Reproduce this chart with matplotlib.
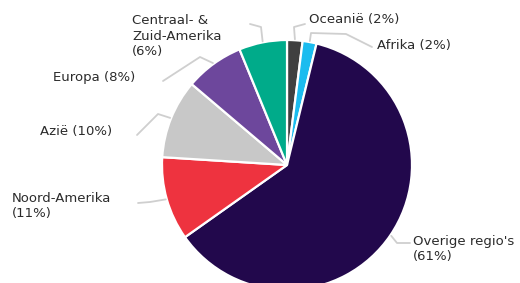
"""Taartdiagram: verdeling per regio (hercreatie)."""
import matplotlib
matplotlib.use("Agg")
import matplotlib.pyplot as plt
import numpy as np

W, H = 520, 283

# data (volgorde met de klok mee vanaf 12 uur)
regions = ["Oceanië", "Afrika", "Overige regio's", "Noord-Amerika", "Azië", "Europa",
           "Centraal- &\nZuid-Amerika"]
shares = [2.0, 1.8, 61.4, 10.8, 10.2, 7.6, 6.2]
pct_labels = ["(2%)", "(2%)", "(61%)", "(11%)", "(10%)", "(8%)", "(6%)"]
colors = ["#404040", "#1bbcef", "#22084c", "#ee333f", "#c8c8c8", "#6d479c", "#00ab8a"]

# layout van labels in pixels (x, y vanaf boven): tekstpositie en knikpunten van de lijn
text_pos = [(309, 19), (377, 45), (413, 249), (12, 206), (40, 132), (53, 77), (132, 36)]
sep = [" ", " ", "\n", "\n", " ", " ", "\n"]
bends = [
    [(294, 27), (305, 24)],
    [(311, 33), (346, 34), (372, 47)],
    [(397, 243), (410, 243)],
    [(150, 202), (138, 203)],
    [(158, 114), (137, 135)],
    [(200, 57), (163, 81)],
    [(261, 27), (250, 24)],
]

cx, cy, r = 287, 165, 125

fig = plt.figure(figsize=(W / 100, H / 100), dpi=100)
ax = fig.add_axes([0, 0, 1, 1])
ax.pie(shares, colors=colors, startangle=90, counterclock=False,
       center=(cx, H - cy), radius=r,
       wedgeprops=dict(edgecolor="white", linewidth=1.6))
ax.set_xlim(0, W)
ax.set_ylim(0, H)
ax.set_aspect("equal")
ax.axis("off")

cum = np.cumsum([0] + shares[:-1])
total = sum(shares)
for i, name in enumerate(regions):
    mid = np.deg2rad((cum[i] + shares[i] / 2) / total * 360)
    x0 = cx + (r + 1) * np.sin(mid)
    y0 = cy - (r + 1) * np.cos(mid)
    pts = [(x0, y0)] + bends[i]
    xs = [p[0] for p in pts]
    ys = [H - p[1] for p in pts]
    ax.plot(xs, ys, color="#cfcfcf", lw=1.3, solid_joinstyle="round", solid_capstyle="round")
    tx, ty = text_pos[i]
    ax.text(tx, H - ty, name + sep[i] + pct_labels[i], ha="left", va="center",
            fontsize=9.5, color="#2b2b2b", linespacing=1.2)

fig.savefig("out.png", dpi=100)
